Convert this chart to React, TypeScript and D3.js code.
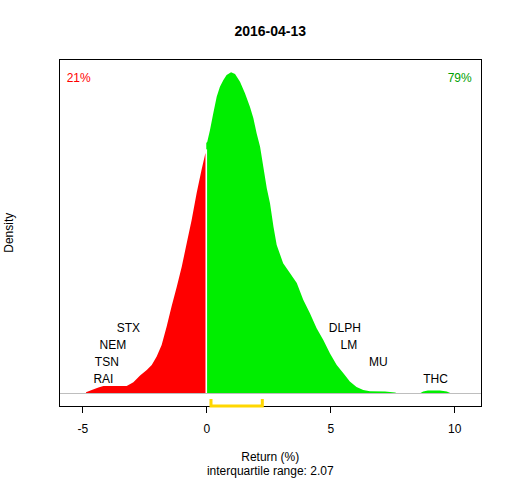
import { useEffect, useRef } from 'react';
import * as d3 from 'd3';

// density (relative to peak), split at zero return
const lossReturns = [-4.85, -4.62, -4.35, -4.15, -3.21, -2.94, -2.67, -2.4, -2.2, -2.0, -1.8, -1.6, -1.4, -1.19, -0.99, -0.79, -0.59, -0.39, -0.19, -0.05, 0];
const lossDensity = [0.003, 0.01, 0.018, 0.022, 0.022, 0.034, 0.055, 0.072, 0.088, 0.114, 0.15, 0.207, 0.27, 0.332, 0.394, 0.467, 0.54, 0.623, 0.696, 0.743, 0.75];

const gainReturns = [0, 0.04, 0.15, 0.28, 0.42, 0.55, 0.69, 0.82, 1.0, 1.16, 1.36, 1.56, 1.76, 1.9, 2.03, 2.17, 2.3, 2.44, 2.57, 2.71, 2.84, 3.1, 3.38, 3.65, 3.91, 4.18, 4.45, 4.72, 4.99, 5.26, 5.53, 5.79, 6.06, 6.33, 6.6, 7.21, 7.61, 7.7, 8.62, 8.75, 8.94, 9.42, 9.7, 9.86];
const gainDensity = [0.78, 0.784, 0.82, 0.872, 0.924, 0.955, 0.976, 0.992, 1.0, 0.995, 0.971, 0.935, 0.893, 0.857, 0.81, 0.768, 0.706, 0.639, 0.592, 0.519, 0.462, 0.405, 0.374, 0.343, 0.291, 0.249, 0.202, 0.166, 0.124, 0.088, 0.062, 0.036, 0.019, 0.01, 0.006, 0.005, 0.002, 0, 0, 0.005, 0.008, 0.008, 0.005, 0];

const tickers = ['RAI', 'TSN', 'NEM', 'STX', 'DLPH', 'LM', 'MU', 'THC'];
const tickerReturns = [-4.15, -4.01, -3.77, -3.14, 5.59, 5.75, 6.94, 9.25];
const tickerLevels = [1, 2, 3, 4, 4, 3, 2, 1];

const xTicks = [-5, 0, 5, 10];
const quartiles = [0.19, 2.26];
const title = '2016-04-13';
const pctDown = '21%';
const pctUp = '79%';

export default function App() {
	const svgRef = useRef<SVGSVGElement | null>(null);
	const width = 512;
	const height = 480;

	useEffect(() => {
		if (!svgRef.current) return;
		const font = '"Liberation Sans", Arial, sans-serif';
		const plot = { left: 59.5, right: 481, top: 59.5, bottom: 406 };

		const svg = d3.select(svgRef.current);
		svg.selectAll('*').remove();

		const x = d3.scaleLinear().domain([-5.92, 11.08]).range([plot.left, plot.right]);
		const y = d3.scaleLinear().domain([-0.04, 1.04]).range([plot.bottom, plot.top]);

		const area = d3
			.area<[number, number]>()
			.x((d) => x(d[0]))
			.y0(y(0))
			.y1((d) => y(d[1]));

		const loss = lossReturns.map((r, i) => [r, lossDensity[i]] as [number, number]);
		const gain = gainReturns.map((r, i) => [r, gainDensity[i]] as [number, number]);

		svg.append('path').attr('d', area(loss)).attr('fill', '#ff0000');
		svg.append('path').attr('d', area(gain)).attr('fill', '#00ee00');

		// white divider at zero
		svg
			.append('line')
			.attr('x1', x(0))
			.attr('x2', x(0))
			.attr('y1', y(0))
			.attr('y2', y(0.76))
			.attr('stroke', 'white')
			.attr('stroke-width', 1.6);

		// zero baseline
		svg
			.append('line')
			.attr('x1', plot.left)
			.attr('x2', plot.right)
			.attr('y1', y(0))
			.attr('y2', y(0))
			.attr('stroke', '#bebebe')
			.attr('shape-rendering', 'crispEdges');

		// box
		svg
			.append('rect')
			.attr('x', plot.left)
			.attr('y', plot.top)
			.attr('width', plot.right - plot.left)
			.attr('height', plot.bottom - plot.top)
			.attr('fill', 'none')
			.attr('stroke', 'black')
			.attr('shape-rendering', 'crispEdges');

		// X axis
		const axis = svg
			.append('g')
			.attr('transform', `translate(0,${plot.bottom})`)
			.call(
				d3
					.axisBottom(x)
					.tickValues(xTicks)
					.tickSize(7)
					.tickPadding(11)
					.tickFormat((d) => String(d))
			);
		axis.select('.domain').remove();
		axis.selectAll('text').style('font-family', font).style('font-size', '12px').attr('fill', 'black');
		axis.selectAll('line').attr('stroke', 'black').attr('shape-rendering', 'crispEdges');

		// interquartile bracket
		const [q1, q3] = quartiles;
		svg
			.append('path')
			.attr('d', `M${x(q1)},${plot.bottom - 7}V${plot.bottom}H${x(q3)}V${plot.bottom - 7}`)
			.attr('fill', 'none')
			.attr('stroke', '#ffd700')
			.attr('stroke-width', 3);

		// ticker labels
		svg
			.append('g')
			.selectAll('text')
			.data(tickers)
			.join('text')
			.attr('x', (_, i) => x(tickerReturns[i]))
			.attr('y', (_, i) => y(tickerLevels[i] * 0.0527 - 0.007))
			.attr('dy', '0.35em')
			.attr('text-anchor', 'middle')
			.style('font-family', font)
			.style('font-size', '12px')
			.text((d) => d);

		// percentages
		svg
			.append('text')
			.attr('x', 66.7)
			.attr('y', 82)
			.attr('fill', '#ff0000')
			.style('font-family', font)
			.style('font-size', '12px')
			.text(pctDown);
		svg
			.append('text')
			.attr('x', 471.7)
			.attr('y', 82)
			.attr('text-anchor', 'end')
			.attr('fill', '#00a000')
			.style('font-family', font)
			.style('font-size', '12px')
			.text(pctUp);

		// title and axis labels
		const cx = (plot.left + plot.right) / 2;
		svg
			.append('text')
			.attr('x', cx)
			.attr('y', 36)
			.attr('text-anchor', 'middle')
			.style('font-family', font)
			.style('font-size', '14px')
			.style('font-weight', 'bold')
			.text(title);
		svg
			.append('text')
			.attr('x', cx)
			.attr('y', 461)
			.attr('text-anchor', 'middle')
			.style('font-family', font)
			.style('font-size', '12px')
			.text('Return (%)');
		svg
			.append('text')
			.attr('x', cx)
			.attr('y', 475.3)
			.attr('text-anchor', 'middle')
			.style('font-family', font)
			.style('font-size', '12px')
			.text(`interquartile range: ${(q3 - q1 + 0.003).toFixed(2)}`);
		svg
			.append('text')
			.attr('transform', `translate(13,${(plot.top + plot.bottom) / 2}) rotate(-90)`)
			.attr('text-anchor', 'middle')
			.style('font-family', font)
			.style('font-size', '12px')
			.text('Density');
	}, []);

	return (
		<svg
			ref={svgRef}
			width={width}
			height={height}
			style={{ position: 'absolute', left: 0, top: 0, background: 'white' }}
		/>
	);
}
